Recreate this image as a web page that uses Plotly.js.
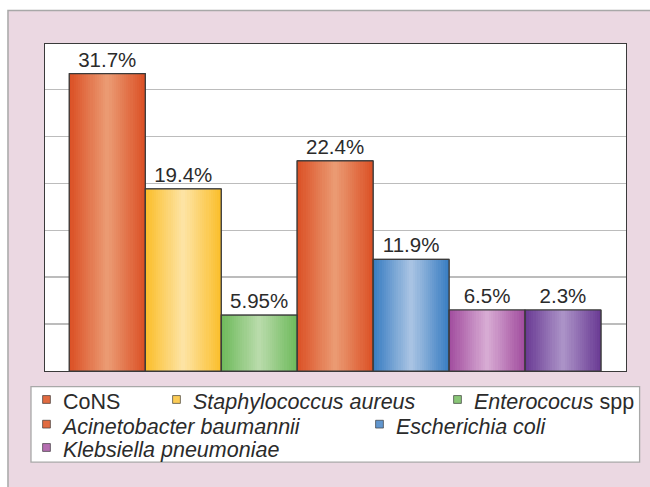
<!DOCTYPE html>
<html>
<head>
<meta charset="utf-8">
<script src="https://cdn.plot.ly/plotly-3.0.1.min.js"></script>
<style>html,body{margin:0;padding:0;background:#fff;}#chart{width:650px;height:487px;}</style>
</head>
<body>
<div id="chart"></div>
<script>
// ---- data ----
var categories = ["CoNS", "Staphylococcus aureus", "Enterococus spp", "Acinetobacter baumannii", "Escherichia coli", "Klebsiella pneumoniae", "Other"];
var legendNames = ["CoNS", "<i>Staphylococcus aureus</i>", "<i>Enterococus</i> spp", "<i>Acinetobacter baumannii</i>", "<i>Escherichia coli</i>", "<i>Klebsiella pneumoniae</i>", "Other"];
var barHeights = [31.7, 19.4, 5.95, 22.4, 11.9, 6.5, 6.5];
var barLabels = ["31.7%", "19.4%", "5.95%", "22.4%", "11.9%", "6.5%", "2.3%"];
var edgeColors = ["#db5126", "#fbbf2c", "#6fba5c", "#db5126", "#3a7ec2", "#a24d9f", "#6a3b94"];
var centerColors = ["#eb9a72", "#fde3a3", "#b8dbaa", "#eb9a72", "#a8c3e3", "#d7abd3", "#ab92c7"];
var showInLegend = [true, true, true, true, true, true, false];

// ---- helpers ----
function hex2rgb(h){h=h.replace('#','');return [parseInt(h.substr(0,2),16),parseInt(h.substr(2,2),16),parseInt(h.substr(4,2),16)];}
function mix(a,b,t){var A=hex2rgb(a),B=hex2rgb(b);return 'rgb('+A.map(function(v,i){return Math.round(v+(B[i]-v)*t);}).join(',')+')';}

var xs = categories.map(function(_,i){return i;});
var FONT = '"Liberation Sans", Arial, sans-serif';
var traces = [];
var legendIds = ['legend','legend2','legend3','legend4','legend5','legend6','legend'];

// base bars (one per category, carry legend entries)
categories.forEach(function(c,i){
  traces.push({
    type:'bar', x:[xs[i]], y:[barHeights[i]], width:[1], name:legendNames[i],
    marker:{color:mix(edgeColors[i], centerColors[i], 0.35), line:{color:'#333', width:1}},
    showlegend:showInLegend[i], legend:legendIds[i],
    hoverinfo:'skip'
  });
});

// gradient layers (narrower, lighter toward the centre)
var N = 18;
for (var k=0;k<N;k++){
  var w = 1 - k/N;
  var t = k/(N-1);
  traces.push({
    type:'bar', x:xs, y:barHeights, width:xs.map(function(){return w;}),
    marker:{color:xs.map(function(i){return mix(edgeColors[i], centerColors[i], t);}), line:{width:0}},
    showlegend:false, hoverinfo:'skip'
  });
}

// outline + labels
traces.push({
  type:'bar', x:xs, y:barHeights, width:xs.map(function(){return 1;}),
  marker:{color:'rgba(0,0,0,0)', line:{color:'#3a3a3a', width:1.2}},
  text:barLabels, textposition:'outside', constraintext:'none', cliponaxis:false,
  textfont:{family:FONT, size:20.5, color:'#2b2b2b'},
  showlegend:false, hoverinfo:'skip'
});

// plot geometry helpers (px -> paper)
var L=45, R=625.7, T=43.5, B=371;
function px2x(p){return (p-L)/(R-L);}
function py2y(p){return (B-p)/(B-T);}

function leg(xpx, ypx){
  return {xref:'container', yref:'container', x:xpx/650, y:1-ypx/487, xanchor:'left', yanchor:'middle',
    bgcolor:'rgba(0,0,0,0)', borderwidth:0, orientation:'v',
    font:{family:FONT, size:21.5, color:'#2b2b2b'}};
}

var layout = {
  width:650, height:487,
  margin:{l:L, r:650-R, t:T, b:487-B, pad:0, autoexpand:false},
  paper_bgcolor:'#ffffff', plot_bgcolor:'rgba(0,0,0,0)',
  barmode:'overlay', bargap:0,
  font:{family:FONT, color:'#2b2b2b'},
  xaxis:{type:'linear', range:[-0.82, 6.83], autorange:false, showticklabels:false, ticks:'', showgrid:false, zeroline:false,
         showline:true, mirror:true, linecolor:'#3a3a3a', linewidth:1.2, fixedrange:true},
  yaxis:{type:'linear', range:[0, 34.85], autorange:false, dtick:5, tick0:0, showticklabels:false, ticks:'', showgrid:true, gridcolor:'#bcbcbc', gridwidth:1.5,
         zeroline:false, showline:true, mirror:true, linecolor:'#3a3a3a', linewidth:1.2, fixedrange:true},
  shapes:[
    {type:'rect', xref:'paper', yref:'paper', layer:'below', x0:px2x(8), x1:px2x(665), y0:py2y(10), y1:py2y(500),
     fillcolor:'#ebd8e2', line:{color:'#a8a8a8', width:1.5}},
    {type:'rect', xref:'paper', yref:'paper', layer:'below', x0:0, x1:1, y0:0, y1:1,
     fillcolor:'#ffffff', line:{width:0}},
    {type:'rect', xref:'paper', yref:'paper', layer:'below', x0:px2x(31), x1:px2x(639.3), y0:py2y(386.7), y1:py2y(462.3),
     fillcolor:'#ffffff', line:{color:'#a8a8a8', width:1.3}}
  ],
  legend: leg(23, 401),
  legend2: leg(153, 401),
  legend3: leg(434, 401),
  legend4: leg(23, 425.7),
  legend5: leg(356, 425.7),
  legend6: leg(23, 449),
  showlegend:true
};

Plotly.newPlot('chart', traces, layout, {displayModeBar:false, staticPlot:true}).then(function(gd){
  // shrink legend swatches to the small squares of the original
  gd.querySelectorAll('.legendpoints path').forEach(function(p){
    var old = p.getAttribute('transform') || '';
    p.setAttribute('transform', old + ' translate(3.5,-1.5) scale(0.65)');
  });
});
</script>
</body>
</html>
